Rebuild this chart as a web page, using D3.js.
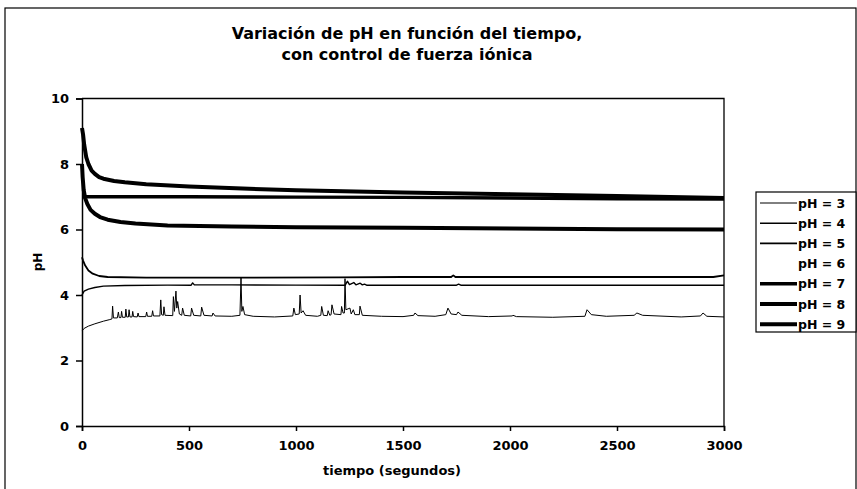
<!DOCTYPE html>
<html>
<head>
<meta charset="utf-8">
<script src="https://cdn.jsdelivr.net/npm/d3@7"></script>
<style>
  body { margin: 0; background: #fff; }
  text { font-family: "DejaVu Sans", Verdana, sans-serif; font-weight: bold; fill: #000; }
</style>
</head>
<body>
<div id="chart"></div>
<script>
// series, [tiempo (s), pH]
var ph3 = [[0,2.9],[10,2.98],[30,3.05],[60,3.12],[100,3.2],[130,3.25],[140,3.27],[143,3.66],[147,3.3],[165,3.3],[170,3.48],[174,3.31],
  [182,3.31],[185,3.5],[189,3.32],[202,3.32],[205,3.57],[209,3.33],[217,3.33],[220,3.55],[224,3.33],[234,3.33],[237,3.5],[241,3.34],
  [258,3.33],[262,3.45],[266,3.34],[298,3.34],[302,3.48],[306,3.35],[326,3.35],[330,3.52],[334,3.36],[364,3.36],[368,3.85],[372,3.4],
  [380,3.38],[383,3.64],[388,3.38],[424,3.37],[427,3.95],[432,3.5],[439,4.12],[443,3.6],[447,3.8],[455,3.42],[466,3.38],[470,3.6],
  [478,3.38],[508,3.36],[512,3.6],[522,3.38],[555,3.36],[559,3.63],[570,3.38],[608,3.36],[612,3.45],[622,3.36],[700,3.35],[738,3.38],
  [743,4.52],[747,3.5],[752,3.65],[760,3.4],[800,3.35],[900,3.33],[985,3.36],[990,3.6],[997,3.4],[1015,3.42],[1019,4.0],[1024,3.45],
  [1033,3.52],[1045,3.38],[1100,3.35],[1116,3.38],[1120,3.65],[1128,3.38],[1146,3.37],[1150,3.52],[1158,3.38],[1164,3.4],[1168,3.7],
  [1178,3.42],[1210,3.4],[1213,3.65],[1220,3.45],[1226,3.45],[1229,4.5],[1233,3.55],[1252,3.6],[1258,3.42],[1268,3.55],[1275,3.4],
  [1296,3.4],[1299,3.66],[1310,3.38],[1400,3.35],[1500,3.34],[1550,3.38],[1556,3.45],[1570,3.37],[1650,3.35],[1700,3.4],[1710,3.6],
  [1725,3.42],[1750,3.4],[1757,3.48],[1775,3.38],[1900,3.34],[2010,3.36],[2014,3.38],[2030,3.34],[2200,3.32],[2350,3.35],[2360,3.55],
  [2380,3.4],[2450,3.35],[2580,3.38],[2593,3.45],[2620,3.38],[2800,3.33],[2890,3.36],[2902,3.45],[2920,3.35],[3000,3.33]]

var ph4 = [[0,4.0],[10,4.12],[30,4.18],[60,4.23],[100,4.27],[200,4.29],[400,4.3],[510,4.3],[517,4.37],[525,4.31],[700,4.31],
  [1000,4.3],[1230,4.3],[1240,4.42],[1250,4.32],[1270,4.38],[1280,4.31],[1300,4.36],[1310,4.31],[1320,4.33],[1330,4.3],
  [1750,4.3],[1760,4.33],[1770,4.3],[2300,4.3],[3000,4.3]]

var ph5 = [[0,5.15],[5,5.05],[15,4.9],[30,4.75],[50,4.65],[80,4.58],[120,4.55],[300,4.53],[600,4.53],[1200,4.54],[1500,4.55],
  [1725,4.55],[1735,4.6],[1745,4.55],[2000,4.55],[2500,4.55],[2950,4.55],[3000,4.6]]

var ph7 = [[0,7.0],[500,7.0],[1000,6.99],[1500,6.98],[2000,6.96],[2500,6.94],[3000,6.93]]

var ph8 = [[0,8.0],[3,7.6],[8,7.2],[15,6.95],[25,6.78],[40,6.6],[60,6.48],[84,6.38],[120,6.3],[180,6.23],[250,6.18],[400,6.12],
  [700,6.09],[1000,6.07],[1500,6.05],[2000,6.03],[2500,6.01],[3000,6.0]]

var ph9 = [[0,9.1],[5,8.9],[10,8.6],[20,8.2],[30,8.0],[45,7.8],[60,7.7],[80,7.6],[100,7.55],[150,7.48],[200,7.44],[300,7.38],
  [500,7.31],[750,7.25],[1000,7.2],[1500,7.13],[2000,7.08],[2500,7.02],[3000,6.96]]

var seriesNames = ['pH = 3', 'pH = 4', 'pH = 5', 'pH = 6', 'pH = 7', 'pH = 8', 'pH = 9']
var seriesData = [ph3, ph4, ph5, [], ph7, ph8, ph9]
var lineWidths = [1, 1.4, 1.8, 0, 3.4, 4, 4]

var xTicks = [0, 500, 1000, 1500, 2000, 2500, 3000]
var yTicks = [0, 2, 4, 6, 8, 10]

var width = 857
var height = 489
var plot = { left: 82, right: 724, top: 98.5, bottom: 426 }

var svg = d3.select('#chart').append('svg')
    .attr('width', width)
    .attr('height', height)

// outer chart frame
svg.append('rect')
    .attr('x', 5).attr('y', 8)
    .attr('width', 851).attr('height', 500)
    .style('fill', 'none').style('stroke', '#000').style('stroke-width', 1.2)

// title
var title = svg.append('text')
    .attr('text-anchor', 'middle')
    .style('font-size', '16px')
title.append('tspan').attr('x', 407).attr('y', 39).text('Variación de pH en función del tiempo,')
title.append('tspan').attr('x', 407).attr('y', 60).text('con control de fuerza iónica')

var x = d3.scaleLinear().domain([0, 3000]).range([plot.left, plot.right])
var y = d3.scaleLinear().domain([0, 10]).range([plot.bottom, plot.top])

// plot area border (top and right)
svg.append('path')
    .attr('d', 'M' + plot.left + ',' + plot.top + 'H' + plot.right + 'V' + plot.bottom)
    .style('fill', 'none').style('stroke', '#000').style('stroke-width', 1.3)

var xAxis = svg.append('g')
    .attr('transform', 'translate(0,' + plot.bottom + ')')
    .call(d3.axisBottom(x).tickValues(xTicks).tickFormat(d3.format('d')).tickSize(5).tickPadding(10))
var yAxis = svg.append('g')
    .attr('transform', 'translate(' + plot.left + ',0)')
    .call(d3.axisLeft(y).tickValues(yTicks).tickSize(6).tickPadding(7))

svg.selectAll('.domain, .tick line').style('stroke', '#000').style('stroke-width', 1.5)
svg.selectAll('.tick text').style('font-size', '13px').style('font-family', '"DejaVu Sans", Verdana, sans-serif')

// axis titles
svg.append('text')
    .attr('x', 392).attr('y', 475)
    .attr('text-anchor', 'middle')
    .style('font-size', '13px')
    .text('tiempo (segundos)')
svg.append('text')
    .attr('transform', 'translate(42,262) rotate(-90)')
    .attr('text-anchor', 'middle')
    .style('font-size', '12px')
    .text('pH')

// the curves
var line = d3.line()
    .x(function (d) { return x(d[0]) })
    .y(function (d) { return y(d[1]) })

svg.selectAll('.serie')
    .data(d3.range(seriesNames.length).filter(function (i) { return seriesData[i].length > 0 }))
    .enter()
    .append('path')
    .attr('class', 'serie')
    .attr('d', function (i) { return line(seriesData[i]) })
    .style('fill', 'none')
    .style('stroke', '#000')
    .style('stroke-linejoin', 'round')
    .style('stroke-width', function (i) { return lineWidths[i] })

// legend
var legend = svg.append('g').attr('transform', 'translate(756,192)')
legend.append('rect')
    .attr('width', 100).attr('height', 140)
    .style('fill', '#fff').style('stroke', '#000').style('stroke-width', 1.2)

var item = legend.selectAll('.legenditem')
    .data(seriesNames)
    .enter()
    .append('g')
    .attr('class', 'legenditem')
    .attr('transform', function (d, i) { return 'translate(0,' + (11 + i * 20.2) + ')' })

item.append('line')
    .attr('x1', 4).attr('x2', 41)
    .style('stroke', '#000')
    .style('stroke-width', function (d, i) { return lineWidths[i] })

item.append('text')
    .attr('x', 42).attr('dy', '0.36em')
    .style('font-size', '12.5px')
    .text(function (d) { return d })
</script>
</body>
</html>
